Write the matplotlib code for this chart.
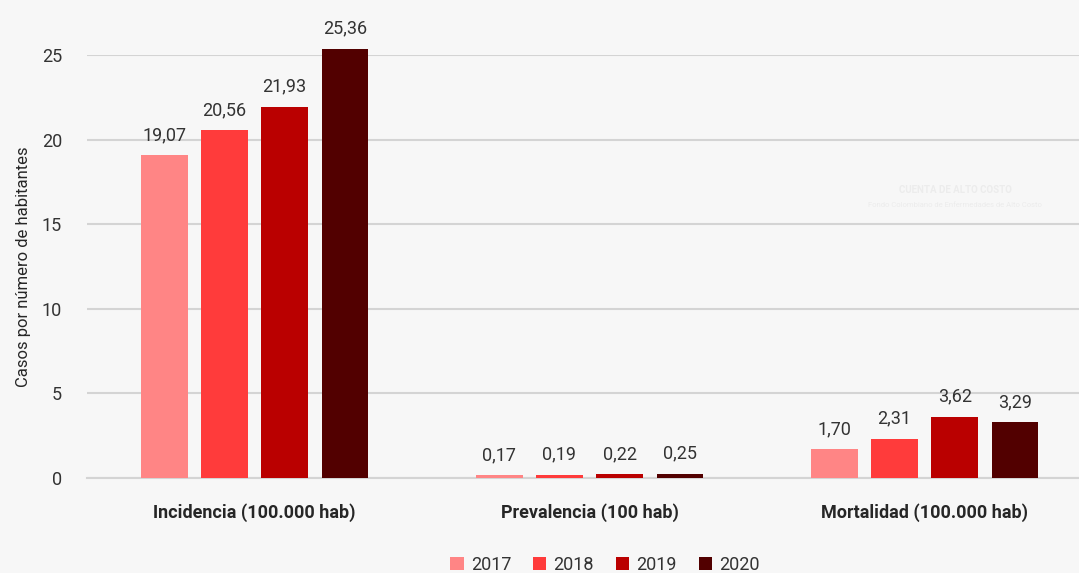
import matplotlib
matplotlib.use("Agg")
import matplotlib.pyplot as plt
import numpy as np

categories = ["Incidencia (100.000 hab)", "Prevalencia (100 hab)", "Mortalidad (100.000 hab)"]
years = ["2017", "2018", "2019", "2020"]
values = {
    "2017": [19.07, 0.17, 1.70],
    "2018": [20.56, 0.19, 2.31],
    "2019": [21.93, 0.22, 3.62],
    "2020": [25.36, 0.25, 3.29],
}
colors = ["#FF8585", "#FF3B3B", "#BA0000", "#520000"]
yticks = [0, 5, 10, 15, 20, 25]

plt.rcParams['font.family'] = ['Roboto', 'DejaVu Sans']
bg = "#F7F7F7"
fig = plt.figure(figsize=(10.79, 5.73), dpi=100, facecolor=bg)
ax = fig.add_axes([87/1079, 95/573, 1005/1079, 423/573], facecolor=bg)

x = np.arange(len(categories))
width = 0.14
step = 0.18
for i, (yr, c) in enumerate(zip(years, colors)):
    xs = x + (i - 1.5) * step
    ax.bar(xs, values[yr], width=width, color=c, zorder=3, clip_on=False, label=yr)
    for xx, v in zip(xs, values[yr]):
        ax.annotate(f"{v:.2f}".replace(".", ","), (xx, v), xytext=(0, 8),
                    textcoords="offset points", ha="center", va="bottom",
                    fontsize=13, color="#333333", annotation_clip=False)

ax.set_xlim(-0.5, 2.5)
ax.set_ylim(0, 25)
ax.set_yticks(yticks)
ax.set_yticklabels([str(t) for t in yticks], fontsize=13, color="#333333")
ax.yaxis.grid(True, color="#D4D4D4", linewidth=1.5, zorder=0)
ax.set_axisbelow(True)
ax.tick_params(axis="y", length=0, pad=18)
ax.tick_params(axis="x", length=0, pad=18)
ax.set_xticks(x)
ax.set_xticklabels(categories, fontsize=13, fontweight="bold", color="#262626")
for s in ["top", "right", "left"]:
    ax.spines[s].set_visible(False)
ax.spines["bottom"].set_color("#D4D4D4")
ax.spines["bottom"].set_linewidth(1.5)
ax.set_ylabel("Casos por número de habitantes", fontsize=12, color="#262626", labelpad=8)

# watermark
fig.text(955/1079, 1 - 190/573, "CUENTA DE ALTO COSTO", ha="center", va="center",
         fontsize=7, fontweight="bold", color="#ECECEC")
fig.text(955/1079, 1 - 205/573, "Fondo Colombiano de Enfermedades de Alto Costo",
         ha="center", va="center", fontsize=5.5, color="#ECECEC")

leg = fig.legend(loc="center", bbox_to_anchor=(605/1079, 1 - 565/573), ncol=4,
                 frameon=False, fontsize=13, handlelength=0.75, handleheight=0.75,
                 handletextpad=0.4, columnspacing=1.2)
for t in leg.get_texts():
    t.set_color("#333333")

fig.savefig("out.png", dpi=100, facecolor=bg)
